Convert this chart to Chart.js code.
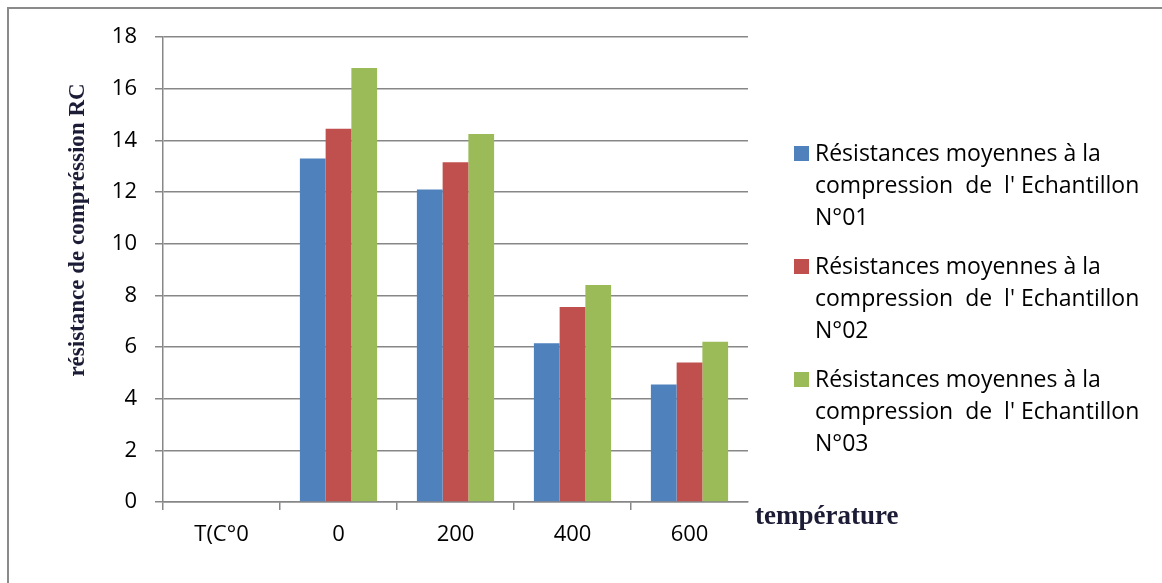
<!DOCTYPE html>
<html>

<head>
    <title>Résistance de compression</title>
    <script src="https://cdn.jsdelivr.net/npm/chart.js"></script>
    <style>
        body {
            margin: 0;
            background: #fff;
        }

        /* thin frame round the chart, only top and left are visible */
        .frame {
            position: absolute;
            left: 7px;
            top: 7px;
            width: 1200px;
            height: 600px;
            border-left: 2px solid #8a8a8a;
            border-top: 2px solid #8a8a8a;
        }

        #rcChart {
            position: absolute;
            left: 0;
            top: 0;
        }
    </style>
</head>

<body>
    <div class="frame"></div>
    <canvas id="rcChart" width="1162" height="583"></canvas>

    <script>
        // categories (temperatures)
        const temperatures = ['T(C°0', '0', '200', '400', '600'];

        // mean compressive strength per sample
        const echantillon01 = [null, 13.3, 12.1, 6.15, 4.55];
        const echantillon02 = [null, 14.45, 13.15, 7.55, 5.4];
        const echantillon03 = [null, 16.8, 14.25, 8.4, 6.2];

        const yTicks = [0, 2, 4, 6, 8, 10, 12, 14, 16, 18];

        const seriesLabels = [
            ['Résistances moyennes à la', 'compression  de  l\' Echantillon', 'N°01'],
            ['Résistances moyennes à la', 'compression  de  l\' Echantillon', 'N°02'],
            ['Résistances moyennes à la', 'compression  de  l\' Echantillon', 'N°03']
        ];
        const seriesColors = ['#4F81BD', '#C0504D', '#9BBB59'];

        const yTitle = 'résistance de compréssion RC';
        const xTitle = 'température';

        const gridGray = '#878787';

        // draws the axis titles and the multi-line legend on the right
        const extraText = {
            id: 'extraText',
            afterDraw(chart) {
                const ctx = chart.ctx;
                const area = chart.chartArea;
                ctx.save();

                // y axis title, rotated
                ctx.fillStyle = '#1c1c36';
                ctx.font = 'bold 23px "Liberation Serif"';
                ctx.textAlign = 'center';
                ctx.textBaseline = 'middle';
                ctx.translate(78, 230);
                ctx.rotate(-Math.PI / 2);
                ctx.fillText(yTitle, 0, 0);
                ctx.restore();

                ctx.save();
                ctx.fillStyle = '#1c1c36';
                ctx.font = 'bold 27px "Liberation Serif"';
                ctx.textAlign = 'left';
                ctx.textBaseline = 'middle';
                ctx.fillText(xTitle, area.right + 7, 517);

                // legend
                ctx.font = '23px "Open Sans"';
                for (let i = 0; i < seriesLabels.length; i++) {
                    const top = 146 + i * 113;
                    ctx.fillStyle = seriesColors[i];
                    ctx.fillRect(794, top, 15, 15);
                    ctx.fillStyle = '#000';
                    seriesLabels[i].forEach((line, j) => {
                        ctx.fillText(line, 815, top + 8 + j * 32);
                    });
                }
                ctx.restore();
            }
        };

        const ctx = document.getElementById('rcChart').getContext('2d');

        new Chart(ctx, {
            type: 'bar',
            data: {
                labels: temperatures,
                datasets: [
                    { label: seriesLabels[0].join(' '), data: echantillon01, backgroundColor: seriesColors[0] },
                    { label: seriesLabels[1].join(' '), data: echantillon02, backgroundColor: seriesColors[1] },
                    { label: seriesLabels[2].join(' '), data: echantillon03, backgroundColor: seriesColors[2] }
                ]
            },
            options: {
                responsive: false,
                animation: false,
                categoryPercentage: 0.66,
                barPercentage: 1,
                layout: {
                    padding: { left: 0, right: 414, top: 37, bottom: 0 }
                },
                plugins: {
                    legend: { display: false },
                    tooltip: { enabled: false }
                },
                scales: {
                    x: {
                        afterFit: s => { s.height = 81; },
                        grid: {
                            drawOnChartArea: false,
                            tickLength: 8,
                            lineWidth: 1.5,
                            color: c => (c.type === 'tick' ? gridGray : 'transparent')
                        },
                        border: { color: gridGray, width: 1.5 },
                        ticks: {
                            color: '#000',
                            padding: 12,
                            font: { family: '"Open Sans"', size: 22 }
                        }
                    },
                    y: {
                        min: 0,
                        max: 18,
                        afterFit: s => { s.width = 163; },
                        afterBuildTicks: s => { s.ticks = yTicks.map(v => ({ value: v })); },
                        grid: {
                            color: gridGray,
                            lineWidth: 1.5,
                            tickLength: 8
                        },
                        border: { color: gridGray, width: 1.5 },
                        ticks: {
                            color: '#000',
                            padding: 18,
                            font: { family: '"Open Sans"', size: 22 }
                        }
                    }
                }
            },
            plugins: [extraText]
        });
    </script>
</body>

</html>
